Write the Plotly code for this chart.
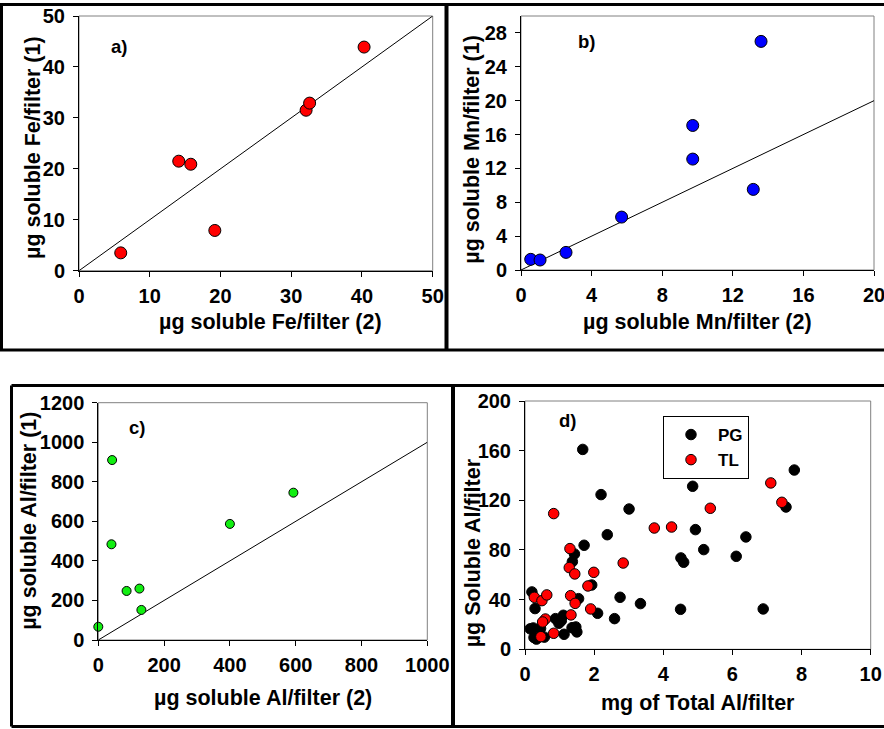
import plotly.graph_objects as go

W, H = 884, 729

# ---------------- data ----------------
fe_x = [5.9, 14.1, 15.8, 19.2, 32.1, 32.6, 40.3]
fe_y = [3.5, 21.5, 20.9, 7.9, 31.5, 32.9, 43.9]
fe_line = [0, 50]

mn_x = [0.55, 1.08, 2.55, 5.7, 9.73, 9.73, 13.16, 13.6]
mn_y = [1.26, 1.18, 2.08, 6.25, 17.07, 13.1, 9.52, 27.0]
mn_line = [0, 20]

al_x = [0, 42, 40, 86, 125, 131, 400, 593]
al_y = [67, 910, 484, 248, 260, 152, 587, 745]
al_line = [0, 1000]

pg_x = [1.67, 7.79, 4.85, 2.2, 3.01, 7.55, 4.93, 2.38, 6.39, 1.71, 5.17, 1.43, 6.11, 4.51,
        4.59, 1.37, 1.93, 1.55, 2.75, 3.34, 4.5, 6.89, 2.1, 2.59, 0.2, 0.29, 0.15, 0.24,
        0.26, 0.33, 0.43, 0.45, 0.56, 0.88, 0.98, 1.05, 1.11, 1.13, 1.36, 1.47, 1.5]
pg_y = [161, 144.4, 131.3, 124.6, 113, 114.6, 96.4, 92.3, 90.5, 83.8, 80.3, 76.8, 74.9, 73.6,
        70.1, 70.6, 51.8, 40.8, 41.9, 36.8, 32.2, 32.5, 29, 24.7, 46.2, 32.8, 16.5, 17.2,
        9.5, 8.2, 10.2, 16.8, 9.8, 24.7, 21, 23, 27.4, 12.1, 17.4, 18, 14]
tl_x = [0.83, 1.3, 1.28, 1.44, 1.99, 2.84, 1.82, 3.74, 4.24, 5.36, 7.11, 7.43, 1.32, 1.45,
        1.9, 1.33, 0.27, 0.49, 0.63, 0.59, 0.51, 0.46, 0.83]
tl_y = [109.3, 81.1, 65.8, 60.7, 62, 69.5, 51, 97.7, 98.5, 113.6, 134, 118.4, 43.2, 37,
        32.5, 27.7, 41.9, 39.2, 43.8, 24.4, 22, 10.2, 12.9]

fe_ticks = [0, 10, 20, 30, 40, 50]
mn_xticks = [0, 4, 8, 12, 16, 20]
mn_yticks = [0, 4, 8, 12, 16, 20, 24, 28]
al_xticks = [0, 200, 400, 600, 800, 1000]
al_yticks = [0, 200, 400, 600, 800, 1000, 1200]
d_xticks = [0, 2, 4, 6, 8, 10]
d_yticks = [0, 40, 80, 120, 160, 200]

panel_labels = ["a)", "b)", "c)", "d)"]
x_titles = ["µg soluble Fe/filter (2)", "µg soluble Mn/filter (2)",
            "µg soluble Al/filter (2)", "mg of Total Al/filter"]
y_titles = ["µg soluble Fe/filter (1)", "µg soluble Mn/filter (1)",
            "µg soluble Al/filter (1)", "µg Soluble Al/filter"]

FONT = "Liberation Sans, Arial, sans-serif"


def px(x):
    return x / W


def py(y):
    return 1 - y / H


fig = go.Figure()

mk = dict(line=dict(color="black", width=1))

fig.add_trace(go.Scatter(x=fe_line, y=fe_line, mode="lines", line=dict(color="black", width=1),
                         xaxis="x", yaxis="y", showlegend=False, cliponaxis=False))
fig.add_trace(go.Scatter(x=fe_x, y=fe_y, mode="markers", xaxis="x", yaxis="y", showlegend=False,
                         marker=dict(size=12, color="#ff0000", **mk), cliponaxis=False))

fig.add_trace(go.Scatter(x=mn_line, y=mn_line, mode="lines", line=dict(color="black", width=1),
                         xaxis="x2", yaxis="y2", showlegend=False, cliponaxis=False))
fig.add_trace(go.Scatter(x=mn_x, y=mn_y, mode="markers", xaxis="x2", yaxis="y2", showlegend=False,
                         marker=dict(size=12, color="#0000ff", **mk), cliponaxis=False))

fig.add_trace(go.Scatter(x=al_line, y=al_line, mode="lines", line=dict(color="black", width=1),
                         xaxis="x3", yaxis="y3", showlegend=False, cliponaxis=False))
fig.add_trace(go.Scatter(x=al_x, y=al_y, mode="markers", xaxis="x3", yaxis="y3", showlegend=False,
                         marker=dict(size=9, color="#11ee11", **mk), cliponaxis=False))

fig.add_trace(go.Scatter(x=pg_x, y=pg_y, mode="markers", xaxis="x4", yaxis="y4", name="<b>PG</b>",
                         marker=dict(size=10.5, color="black", **mk), cliponaxis=False))
fig.add_trace(go.Scatter(x=tl_x, y=tl_y, mode="markers", xaxis="x4", yaxis="y4", name="<b>TL</b>",
                         marker=dict(size=10.5, color="#ff0000", **mk), cliponaxis=False))

tickfont = dict(family=FONT, size=20, color="black")


def ax(domain, rng, ticks, anchor, is_x):
    d = dict(domain=domain, range=rng, tickmode="array", tickvals=ticks,
             ticktext=["<b>%g</b>" % t for t in ticks], anchor=anchor,
             showline=True, linecolor="black", linewidth=1, ticks="outside", ticklen=5,
             tickcolor="black", tickwidth=1, showgrid=False, zeroline=False,
             tickfont=tickfont, fixedrange=True, automargin=False,
             ticklabeloverflow="allow")
    d["ticklabelstandoff"] = 2 if is_x else 4
    return d


# panel plot areas (pixel coordinates)
areas = {
    1: (79, 432.7, 16, 270.7),
    2: (521, 874, 16, 270),
    3: (98.3, 427.3, 402.7, 640),
    4: (525, 870.7, 401, 649.3),
}
ranges = {1: ([0, 50], [0, 50], fe_ticks, fe_ticks),
          2: ([0, 20], [0, 30], mn_xticks, mn_yticks),
          3: ([0, 1000], [0, 1200], al_xticks, al_yticks),
          4: ([0, 10], [0, 200], d_xticks, d_yticks)}

lay = {}
for i in range(1, 5):
    x0, x1, y0, y1 = areas[i]
    xr, yr, xt, yt = ranges[i]
    s = "" if i == 1 else str(i)
    lay["xaxis" + s] = ax([px(x0), px(x1)], xr, xt, "y" + s, True)
    lay["yaxis" + s] = ax([py(y1), py(y0)], yr, yt, "x" + s, False)

fig.update_layout(**lay)

shapes = []
# gray plot-area boxes
for i in range(1, 5):
    s = "" if i == 1 else str(i)
    shapes.append(dict(type="rect", xref="x" + s + " domain", yref="y" + s + " domain",
                       x0=0, x1=1, y0=0, y1=1, line=dict(color="#808080", width=1), layer="below"))

# black panel frames
frame_lines = [
    (0, 4.5, 884, 4.5, 3), (1.5, 4.5, 1.5, 350, 3), (446.5, 4.5, 446.5, 350, 4),
    (0, 350, 884, 350, 3),
    (11.5, 385.5, 884, 385.5, 3), (11.5, 385.5, 11.5, 726.5, 3),
    (453, 385.5, 453, 726.5, 4), (11.5, 726.5, 884, 726.5, 3),
]
for (xa, ya, xb, yb, w) in frame_lines:
    shapes.append(dict(type="line", xref="paper", yref="paper", x0=px(xa), y0=py(ya),
                       x1=px(xb), y1=py(yb), line=dict(color="black", width=w)))

annotations = []
title_font = dict(family=FONT, size=21.5, color="black")
xt_pos = [(270.8, 321.7), (697.5, 321.7), (262.5, 698), (697.5, 702.7)]
yt_pos = [(33, 148), (471.7, 149), (29, 520.8), (473, 553.3)]
lab_pos = [(109, 47), (576, 42), (127, 427), (557, 420)]
for i in range(4):
    annotations.append(dict(text="<b>%s</b>" % x_titles[i], x=px(xt_pos[i][0]), y=py(xt_pos[i][1]),
                            xref="paper", yref="paper", showarrow=False, font=title_font,
                            xanchor="center", yanchor="middle"))
    annotations.append(dict(text="<b>%s</b>" % y_titles[i], x=px(yt_pos[i][0]), y=py(yt_pos[i][1]),
                            xref="paper", yref="paper", showarrow=False, font=title_font,
                            textangle=-90, xanchor="center", yanchor="middle"))
    annotations.append(dict(text="<b>%s</b>" % panel_labels[i], x=px(lab_pos[i][0]),
                            y=py(lab_pos[i][1]),
                            xref="paper", yref="paper", showarrow=False,
                            font=dict(family=FONT, size=18.5, color="black"),
                            xanchor="left", yanchor="middle"))

fig.update_layout(
    template="none",
    width=W, height=H, margin=dict(l=0, r=0, t=0, b=0, autoexpand=False),
    paper_bgcolor="white", plot_bgcolor="white",
    shapes=shapes, annotations=annotations,
    showlegend=True,
    legend=dict(x=px(663), y=py(416), xanchor="left", yanchor="top",
                bordercolor="black", borderwidth=1, bgcolor="white",
                font=dict(family=FONT, size=17, color="black"),
                itemwidth=44, tracegroupgap=0),
)

post = ("document.documentElement.style.margin='0';document.body.style.margin='0';"
        "document.body.style.padding='0';document.documentElement.style.overflow='hidden';"
        "document.body.style.overflow='hidden';")

fig.write_html("out.html", post_script=post, config={"displayModeBar": False})
